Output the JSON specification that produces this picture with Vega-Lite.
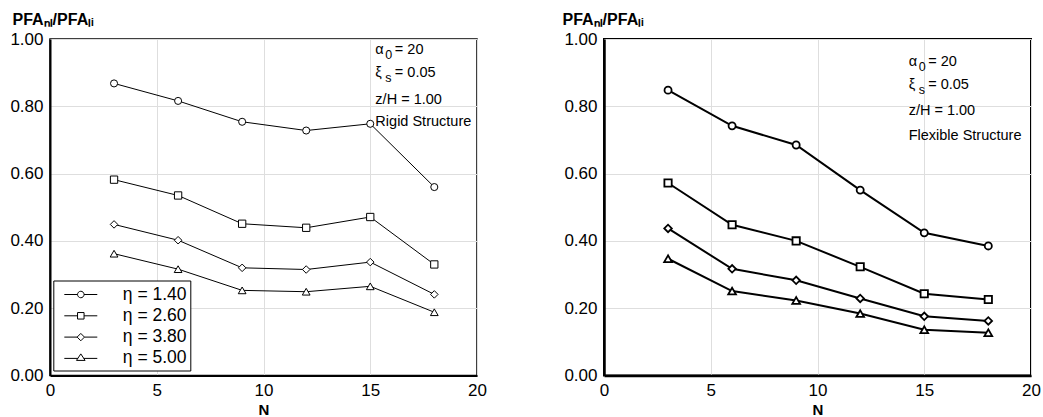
{
  "$schema": "https://vega.github.io/schema/vega-lite/v6.json",
  "background": "white",
  "padding": {"left": 9, "top": 10, "right": 2, "bottom": 0},
  "spacing": 73,
  "config": {
    "font": "Liberation Sans",
    "view": {"stroke": "black", "strokeWidth": 1.5},
    "axis": {
      "labelFont": "Liberation Sans",
      "labelFontSize": 17,
      "labelColor": "black",
      "labelFlush": false,
      "titleFont": "Liberation Sans",
      "titleColor": "black",
      "titleFontWeight": "bold",
      "gridColor": "#dedede",
      "gridWidth": 1,
      "domainColor": "black",
      "domainWidth": 2,
      "ticks": false,
      "labelPadding": 7
    }
  },
  "datasets": {
    "rigid": [
      {"N": 3, "eta": "1.40", "v": 0.868}, {"N": 6, "eta": "1.40", "v": 0.816}, {"N": 9, "eta": "1.40", "v": 0.754},
      {"N": 12, "eta": "1.40", "v": 0.728}, {"N": 15, "eta": "1.40", "v": 0.748}, {"N": 18, "eta": "1.40", "v": 0.560},
      {"N": 3, "eta": "2.60", "v": 0.582}, {"N": 6, "eta": "2.60", "v": 0.535}, {"N": 9, "eta": "2.60", "v": 0.451},
      {"N": 12, "eta": "2.60", "v": 0.439}, {"N": 15, "eta": "2.60", "v": 0.471}, {"N": 18, "eta": "2.60", "v": 0.330},
      {"N": 3, "eta": "3.80", "v": 0.449}, {"N": 6, "eta": "3.80", "v": 0.402}, {"N": 9, "eta": "3.80", "v": 0.320},
      {"N": 12, "eta": "3.80", "v": 0.315}, {"N": 15, "eta": "3.80", "v": 0.337}, {"N": 18, "eta": "3.80", "v": 0.241},
      {"N": 3, "eta": "5.00", "v": 0.362}, {"N": 6, "eta": "5.00", "v": 0.316}, {"N": 9, "eta": "5.00", "v": 0.253},
      {"N": 12, "eta": "5.00", "v": 0.249}, {"N": 15, "eta": "5.00", "v": 0.265}, {"N": 18, "eta": "5.00", "v": 0.188}
    ],
    "flexible": [
      {"N": 3, "eta": "1.40", "v": 0.848}, {"N": 6, "eta": "1.40", "v": 0.742}, {"N": 9, "eta": "1.40", "v": 0.685},
      {"N": 12, "eta": "1.40", "v": 0.551}, {"N": 15, "eta": "1.40", "v": 0.424}, {"N": 18, "eta": "1.40", "v": 0.385},
      {"N": 3, "eta": "2.60", "v": 0.572}, {"N": 6, "eta": "2.60", "v": 0.448}, {"N": 9, "eta": "2.60", "v": 0.400},
      {"N": 12, "eta": "2.60", "v": 0.323}, {"N": 15, "eta": "2.60", "v": 0.243}, {"N": 18, "eta": "2.60", "v": 0.226},
      {"N": 3, "eta": "3.80", "v": 0.437}, {"N": 6, "eta": "3.80", "v": 0.317}, {"N": 9, "eta": "3.80", "v": 0.283},
      {"N": 12, "eta": "3.80", "v": 0.229}, {"N": 15, "eta": "3.80", "v": 0.176}, {"N": 18, "eta": "3.80", "v": 0.162},
      {"N": 3, "eta": "5.00", "v": 0.347}, {"N": 6, "eta": "5.00", "v": 0.251}, {"N": 9, "eta": "5.00", "v": 0.223},
      {"N": 12, "eta": "5.00", "v": 0.184}, {"N": 15, "eta": "5.00", "v": 0.136}, {"N": 18, "eta": "5.00", "v": 0.127}
    ],
    "notesRigid": [
      {"N": 15.24, "v": 0.966, "sym": "α", "sub": "0", "rest": "= 20"},
      {"N": 15.24, "v": 0.900, "sym": "ξ", "sub": "s", "rest": "= 0.05"},
      {"N": 15.24, "v": 0.820, "sym": "z/H = 1.00", "sub": "", "rest": ""},
      {"N": 15.24, "v": 0.752, "sym": "Rigid Structure", "sub": "", "rest": ""}
    ],
    "notesFlexible": [
      {"N": 14.27, "v": 0.931, "sym": "α", "sub": "0", "rest": "= 20"},
      {"N": 14.27, "v": 0.862, "sym": "ξ", "sub": "s", "rest": "= 0.05"},
      {"N": 14.27, "v": 0.785, "sym": "z/H = 1.00", "sub": "", "rest": ""},
      {"N": 14.27, "v": 0.713, "sym": "Flexible Structure", "sub": "", "rest": ""}
    ]
  },
  "hconcat": [
    {
      "width": 427,
      "height": 336.5,
      "view": {"stroke": "black", "strokeWidth": 1.5},
      "data": {"name": "rigid"},
      "encoding": {
        "x": {"field": "N", "type": "quantitative", "scale": {"domain": [0, 20], "nice": false},
              "axis": {"values": [0, 5, 10, 15, 20], "title": "N", "titleFontSize": 15, "titlePadding": 4, "labelPadding": 7, "grid": true}},
        "y": {"field": "v", "type": "quantitative", "scale": {"domain": [0, 1], "nice": false},
              "axis": {"values": [0, 0.2, 0.4, 0.6, 0.8, 1], "format": ".2f", "title": "PFAₙₗ/PFAₗᵢ",
                       "titleAngle": 0, "titleAlign": "left", "titleBaseline": "middle", "titleX": -38, "titleY": -20,
                       "titleFontSize": 16, "grid": true}}
      },
      "layer": [
        {"mark": {"type": "line", "color": "black", "strokeWidth": 1}, "encoding": {"detail": {"field": "eta"}}},
        {"mark": {"type": "point", "filled": true, "fill": "white", "stroke": "black", "strokeWidth": 1, "opacity": 1},
         "encoding": {
           "shape": {"field": "eta", "type": "nominal", "scale": {"domain": ["1.40", "2.60", "3.80", "5.00"], "range": ["circle", "square", "diamond", "triangle-up"]}, "legend": null},
           "size": {"field": "eta", "type": "ordinal", "scale": {"domain": ["1.40", "2.60", "3.80", "5.00"], "range": [50, 60, 60, 85]}, "legend": null}
         }},
        {"data": {"name": "notesRigid"}, "mark": {"type": "text", "align": "left", "baseline": "middle", "fontSize": 14.5, "color": "black"}, "encoding": {"text": {"field": "sym"}}},
        {"data": {"name": "notesRigid"}, "mark": {"type": "text", "align": "left", "baseline": "middle", "fontSize": 12.5, "dx": 10, "dy": 5, "color": "black"}, "encoding": {"text": {"field": "sub"}}},
        {"data": {"name": "notesRigid"}, "mark": {"type": "text", "align": "left", "baseline": "middle", "fontSize": 14.5, "dx": 19.5, "color": "black"}, "encoding": {"text": {"field": "rest"}}},
        {"transform": [{"filter": "false"}],
         "mark": {"type": "point", "filled": false, "color": "black", "strokeWidth": 1, "opacity": 1},
         "encoding": {
           "shape": {"field": "eta", "type": "nominal",
                     "scale": {"domain": ["1.40", "2.60", "3.80", "5.00"],
                               "range": ["M-1.57,0H-0.31M0.31,0H1.57M0.31,0A0.31,0.31 0 1,1 -0.31,0A0.31,0.31 0 1,1 0.31,0Z",
                                         "M-1.57,0H-0.31M0.31,0H1.57M-0.31,-0.31H0.31V0.31H-0.31Z",
                                         "M-1.57,0H-0.35M0.35,0H1.57M0,-0.35L0.35,0L0,0.35L-0.35,0Z",
                                         "M-1.57,0H-0.28M0.28,0H1.57M0,-0.43L0.41,0.19L-0.41,0.19Z"]},
                     "legend": {"orient": "none", "legendX": 3.3, "legendY": 241.5, "title": null,
                                "labelExpr": "'η = ' + datum.label + '   '", "labelFont": "Liberation Sans", "labelFontSize": 17.5, "labelColor": "black",
                                "symbolSize": 441, "symbolStrokeWidth": 1, "symbolStrokeColor": "black", "symbolOpacity": 1,
                                "rowPadding": 1.3, "padding": 3, "symbolOffset": 13.5, "labelOffset": 31,
                                "strokeColor": "black", "fillColor": "white"}}
         }}
      ],
      "resolve": {"scale": {"shape": "independent"}, "legend": {"shape": "independent"}}
    },
    {
      "width": 427,
      "height": 336.5,
      "view": {"stroke": "black", "strokeWidth": 2},
      "data": {"name": "flexible"},
      "encoding": {
        "x": {"field": "N", "type": "quantitative", "scale": {"domain": [0, 20], "nice": false},
              "axis": {"values": [0, 5, 10, 15, 20], "title": "N", "titleFontSize": 15, "titlePadding": 4, "labelPadding": 7, "grid": true, "domainWidth": 2.5}},
        "y": {"field": "v", "type": "quantitative", "scale": {"domain": [0, 1], "nice": false},
              "axis": {"values": [0, 0.2, 0.4, 0.6, 0.8, 1], "format": ".2f", "title": "PFAₙₗ/PFAₗᵢ",
                       "titleAngle": 0, "titleAlign": "left", "titleBaseline": "middle", "titleX": -42, "titleY": -20,
                       "titleFontSize": 16, "grid": true, "domainWidth": 2.5}}
      },
      "layer": [
        {"mark": {"type": "line", "color": "black", "strokeWidth": 2}, "encoding": {"detail": {"field": "eta"}}},
        {"mark": {"type": "point", "filled": true, "fill": "white", "stroke": "black", "strokeWidth": 1.8, "opacity": 1},
         "encoding": {
           "shape": {"field": "eta", "type": "nominal", "scale": {"domain": ["1.40", "2.60", "3.80", "5.00"], "range": ["circle", "square", "diamond", "triangle-up"]}, "legend": null},
           "size": {"field": "eta", "type": "ordinal", "scale": {"domain": ["1.40", "2.60", "3.80", "5.00"], "range": [50, 60, 60, 85]}, "legend": null}
         }},
        {"data": {"name": "notesFlexible"}, "mark": {"type": "text", "align": "left", "baseline": "middle", "fontSize": 14.5, "color": "black"}, "encoding": {"text": {"field": "sym"}}},
        {"data": {"name": "notesFlexible"}, "mark": {"type": "text", "align": "left", "baseline": "middle", "fontSize": 12.5, "dx": 10, "dy": 5, "color": "black"}, "encoding": {"text": {"field": "sub"}}},
        {"data": {"name": "notesFlexible"}, "mark": {"type": "text", "align": "left", "baseline": "middle", "fontSize": 14.5, "dx": 19.5, "color": "black"}, "encoding": {"text": {"field": "rest"}}}
      ]
    }
  ],
  "resolve": {"scale": {"shape": "independent", "size": "independent"}, "legend": {"shape": "independent", "size": "independent"}}
}
